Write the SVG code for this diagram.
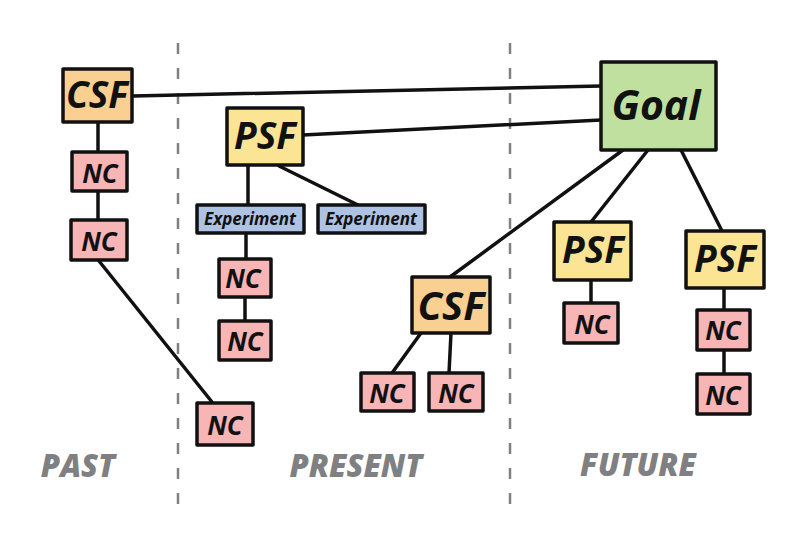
<svg xmlns="http://www.w3.org/2000/svg" width="800" height="540" viewBox="0 0 800 540">
<style>
.box{stroke:#111;stroke-width:3.5;stroke-linejoin:round}
.nc{fill:#f7b5b5}.csf{fill:#f9cf92}.psf{fill:#fbe595}.goal{fill:#bfe09f}.exp{fill:#aec3e3}
.lbl{font-family:"Open Sans","Liberation Sans",sans-serif;font-weight:700;font-style:italic;fill:#111;text-anchor:middle}
.s{font-size:26px}.m{font-size:37px}.c2{font-size:40px}.l{font-size:41px}.x{font-size:17px}
.era{font-family:"Open Sans","Liberation Sans",sans-serif;font-weight:800;font-style:italic;font-size:31px;fill:#808082;text-anchor:middle}
.div{stroke:#808080;stroke-width:2.5;stroke-dasharray:11 14;fill:none}
.c{stroke:#111;stroke-width:3.5;fill:none;stroke-linecap:round}
</style>
<line class="div" x1="178" y1="43" x2="178" y2="505"/>
<line class="div" x1="510" y1="43" x2="510" y2="505"/>
<g id="connectors">
<path class="c" d="M133 96L601 86"/>
<path class="c" d="M303 135L601 120"/>
<path class="c" d="M98 122V151"/>
<path class="c" d="M98 191V219"/>
<path class="c" d="M99 261L212 402"/>
<path class="c" d="M248 165V205"/>
<path class="c" d="M279 166L358 205"/>
<path class="c" d="M246 233V259"/>
<path class="c" d="M245 297V321"/>
<path class="c" d="M623 150L450 277"/>
<path class="c" d="M648 150L591 222"/>
<path class="c" d="M681 150L722 231"/>
<path class="c" d="M591 280V303"/>
<path class="c" d="M724 288V309"/>
<path class="c" d="M724 350V374"/>
<path class="c" d="M421 333L392 373"/>
<path class="c" d="M451 333L449 373"/>
</g>
<g id="csf1"><rect class="box csf" x="63" y="69" width="69" height="53"/><text class="lbl m" x="97" y="108">CSF</text></g>
<g id="nc1"><rect class="box nc" x="72" y="152" width="55" height="39"/><text class="lbl s" x="100" y="183">NC</text></g>
<g id="nc2"><rect class="box nc" x="71" y="220" width="56" height="40"/><text class="lbl s" x="99" y="251">NC</text></g>
<g id="nc3"><rect class="box nc" x="197" y="403" width="56" height="42"/><text class="lbl s" x="225" y="435">NC</text></g>
<g id="psf1"><rect class="box psf" x="227" y="108" width="76" height="57"/><text class="lbl m" x="265" y="149">PSF</text></g>
<g id="exp1"><rect class="box exp" x="197" y="205" width="107" height="28"/><text class="lbl x" x="250" y="225">Experiment</text></g>
<g id="exp2"><rect class="box exp" x="318" y="205" width="107" height="28"/><text class="lbl x" x="371" y="225">Experiment</text></g>
<g id="nc4"><rect class="box nc" x="219" y="259" width="52" height="38"/><text class="lbl s" x="243" y="288">NC</text></g>
<g id="nc5"><rect class="box nc" x="219" y="321" width="52" height="39"/><text class="lbl s" x="245" y="351">NC</text></g>
<g id="csf2"><rect class="box csf" x="412" y="277" width="78" height="56"/><text class="lbl c2" x="451" y="320">CSF</text></g>
<g id="nc6"><rect class="box nc" x="361" y="373" width="53" height="38"/><text class="lbl s" x="387" y="403">NC</text></g>
<g id="nc7"><rect class="box nc" x="429" y="373" width="54" height="38"/><text class="lbl s" x="456" y="403">NC</text></g>
<g id="goal"><rect class="box goal" x="601" y="62" width="115" height="88"/><text class="lbl l" x="656" y="120">Goal</text></g>
<g id="psf2"><rect class="box psf" x="554" y="222" width="77" height="58"/><text class="lbl m" x="593" y="263">PSF</text></g>
<g id="psf3"><rect class="box psf" x="686" y="231" width="78" height="57"/><text class="lbl m" x="725" y="272">PSF</text></g>
<g id="nc8"><rect class="box nc" x="564" y="303" width="54" height="40"/><text class="lbl s" x="592" y="334">NC</text></g>
<g id="nc9"><rect class="box nc" x="697" y="310" width="53" height="40"/><text class="lbl s" x="723" y="340">NC</text></g>
<g id="nc10"><rect class="box nc" x="697" y="374" width="53" height="40"/><text class="lbl s" x="723" y="405">NC</text></g>
<text class="era" x="78" y="477">PAST</text>
<text class="era" x="356" y="477">PRESENT</text>
<text class="era" x="638" y="476">FUTURE</text>
</svg>
